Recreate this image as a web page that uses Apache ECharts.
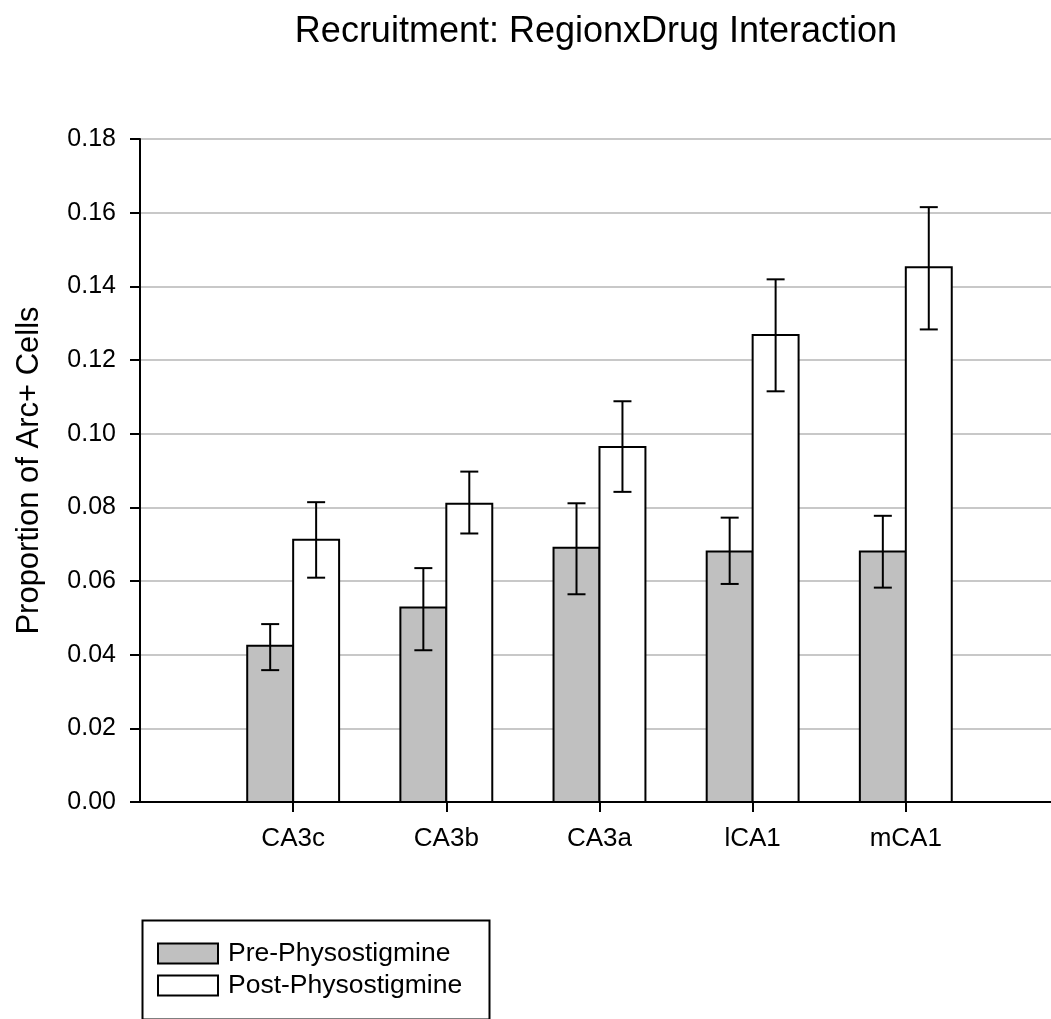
<!DOCTYPE html>
<html>
<head>
<meta charset="utf-8">
<script src="https://cdn.jsdelivr.net/npm/echarts@6/dist/echarts.min.js"></script>
<style>
html,body{margin:0;padding:0;background:#fff;}
#chart{width:1051px;height:1019px;}
</style>
</head>
<body>
<div id="chart"></div>
<script>
const categories = ['CA3c', 'CA3b', 'CA3a', 'lCA1', 'mCA1'];
const seriesNames = ['Pre-Physostigmine', 'Post-Physostigmine'];
const preMean = [0.0424, 0.0528, 0.0690, 0.0680, 0.0680];
const preLow  = [0.0358, 0.0412, 0.0564, 0.0592, 0.0582];
const preHigh = [0.0483, 0.0635, 0.0811, 0.0772, 0.0777];
const postMean = [0.0712, 0.0810, 0.0964, 0.1268, 0.1452];
const postLow  = [0.0609, 0.0729, 0.0842, 0.1115, 0.1283];
const postHigh = [0.0814, 0.0897, 0.1088, 0.1419, 0.1615];
const yTicks = [0, 0.02, 0.04, 0.06, 0.08, 0.10, 0.12, 0.14, 0.16, 0.18];

const FONT = '"Liberation Sans", Arial, sans-serif';
const BAR_HALF = 0.3;   // bar width in category units
const CAP = 9;          // error cap half width px
const catPositions = categories.map((c, i) => i + 1);

function makeData(mean, low, high) {
  return categories.map((c, i) => [i + 1, mean[i], low[i], high[i]]);
}

function renderer(side, fill) {
  return function (params, api) {
    const x = api.value(0), v = api.value(1), lo = api.value(2), hi = api.value(3);
    const x0 = side < 0 ? x - BAR_HALF : x;
    const x1 = side < 0 ? x : x + BAR_HALF;
    const pTL = api.coord([x0, v]);
    const pBR = api.coord([x1, 0]);
    const xc = api.coord([(x0 + x1) / 2, 0])[0];
    const yLo = api.coord([x, lo])[1];
    const yHi = api.coord([x, hi])[1];
    const line = { stroke: '#000', lineWidth: 2 };
    return {
      type: 'group',
      children: [
        { type: 'rect', shape: { x: pTL[0], y: pTL[1], width: pBR[0] - pTL[0], height: pBR[1] - pTL[1] },
          style: { fill: fill, stroke: '#000', lineWidth: 2 } },
        { type: 'line', shape: { x1: xc, y1: yLo, x2: xc, y2: yHi }, style: line },
        { type: 'line', shape: { x1: xc - CAP, y1: yLo, x2: xc + CAP, y2: yLo }, style: line },
        { type: 'line', shape: { x1: xc - CAP, y1: yHi, x2: xc + CAP, y2: yHi }, style: line }
      ]
    };
  };
}

const chart = echarts.init(document.getElementById('chart'), null, { renderer: 'canvas' });
chart.setOption({
  backgroundColor: '#fff',
  animation: false,
  textStyle: { fontFamily: FONT, color: '#000' },
  title: {
    text: 'Recruitment: RegionxDrug Interaction',
    left: 591, top: 9, textAlign: 'center',
    textStyle: { fontFamily: FONT, fontSize: 36, fontWeight: 'normal', color: '#000' }
  },
  grid: { left: 140, right: 0, top: 139, bottom: 217 },
  xAxis: {
    type: 'value', min: 0, max: 5.948, interval: 1,
    axisLine: { show: true, onZero: false, lineStyle: { color: '#000', width: 2 } },
    axisTick: { show: true, length: 10, customValues: catPositions, lineStyle: { color: '#000', width: 2 } },
    splitLine: { show: false },
    axisLabel: {
      margin: 24, fontSize: 26, color: '#000', fontFamily: FONT,
      customValues: catPositions,
      formatter: v => categories[Math.round(v) - 1] || ''
    }
  },
  yAxis: {
    type: 'value', min: 0, max: 0.18, interval: 0.02,
    name: 'Proportion of Arc+ Cells', nameLocation: 'middle', nameRotate: 90, nameGap: 95,
    nameTextStyle: { fontSize: 31, color: '#000', fontFamily: FONT },
    axisLine: { show: true, lineStyle: { color: '#000', width: 2 } },
    axisTick: { show: true, length: 10, lineStyle: { color: '#000', width: 2 } },
    splitLine: { show: true, lineStyle: { color: '#c8c8c8', width: 2 } },
    axisLabel: { margin: 24, fontSize: 25, color: '#000', fontFamily: FONT, formatter: v => v.toFixed(2) }
  },
  legend: {
    orient: 'vertical', left: 157, top: 940, padding: 0,
    itemWidth: 60, itemHeight: 20, itemGap: 5, icon: 'rect',
    textStyle: { fontSize: 26.5, lineHeight: 20, color: '#000', fontFamily: FONT, padding: [0, 0, 0, 5] },
    data: [
      { name: seriesNames[0], itemStyle: { color: '#c0c0c0', borderColor: '#000', borderWidth: 2 } },
      { name: seriesNames[1], itemStyle: { color: '#ffffff', borderColor: '#000', borderWidth: 2 } }
    ]
  },
  graphic: [
    { type: 'rect', left: 140, top: 918, shape: { width: 347, height: 99 },
      style: { fill: 'none', stroke: '#000', lineWidth: 2 }, silent: true }
  ],
  series: [
    { name: seriesNames[0], type: 'custom', renderItem: renderer(-1, '#c0c0c0'),
      itemStyle: { color: '#c0c0c0' }, encode: { x: 0, y: [1, 2, 3] },
      data: makeData(preMean, preLow, preHigh), z: 3 },
    { name: seriesNames[1], type: 'custom', renderItem: renderer(1, '#ffffff'),
      itemStyle: { color: '#ffffff' }, encode: { x: 0, y: [1, 2, 3] },
      data: makeData(postMean, postLow, postHigh), z: 3 }
  ]
});
</script>
</body>
</html>
